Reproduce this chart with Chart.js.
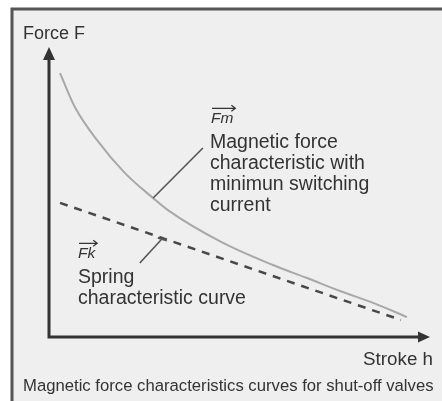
<!DOCTYPE html>
<html>
<head>
<meta charset="utf-8">
<script src="https://cdn.jsdelivr.net/npm/chart.js@4/dist/chart.umd.min.js"></script>
<style>
  html, body { margin: 0; padding: 0; background: #fff; }
  #wrap { width: 442px; height: 401px; }
</style>
</head>
<body>
<div id="wrap"><canvas id="chart" width="442" height="401"></canvas></div>
<script>
// Stroke h (0-100) vs force F (0-100)
const magneticStroke = [2.9, 6.8, 12.6, 20.0, 27.1, 31.3, 45.3, 58.9, 67.9, 76.6, 85.3, 94.2];
const magneticForce  = [91.3, 79.6, 68.2, 56.7, 48.4, 43.9, 32.9, 24.9, 20.4, 15.9, 11.8, 6.9];
const springStroke = [2.9, 92.6];
const springForce  = [46.4, 5.9];

// leader lines: [stroke, force] endpoints
const fmLeader = [[27.4, 48.1], [40.5, 65.4]];
const fkLeader = [[23.9, 25.6], [29.7, 33.9]];

const FONT = '"Liberation Sans", Arial, sans-serif';
const INK = "#333333";

const toPoints = (xs, ys) => xs.map((x, i) => ({ x, y: ys[i] }));

// frame + light grey panel behind the chart
const panelPlugin = {
  id: "panel",
  beforeDraw(chart) {
    const ctx = chart.ctx;
    ctx.save();
    ctx.fillStyle = "#fff";
    ctx.fillRect(0, 0, chart.width, chart.height);
    ctx.fillStyle = "#efefef";
    ctx.fillRect(11, 8, chart.width - 11, chart.height - 8);
    ctx.strokeStyle = "#555";
    ctx.lineWidth = 3;
    ctx.beginPath();
    ctx.moveTo(12, chart.height);
    ctx.lineTo(12, 9);
    ctx.lineTo(chart.width, 9);
    ctx.stroke();
    ctx.restore();
  },
};

function arrowText(ctx, text, x, y, size) {
  ctx.font = "italic " + size + "px " + FONT;
  ctx.fillText(text, x, y);
  const w = ctx.measureText(text).width;
  const ay = y - size * 0.95;
  ctx.lineWidth = 1.2;
  ctx.beginPath();
  ctx.moveTo(x + 1, ay);
  ctx.lineTo(x + w + 2, ay);
  ctx.moveTo(x + w - 2, ay - 3);
  ctx.lineTo(x + w + 2, ay);
  ctx.lineTo(x + w - 2, ay + 3);
  ctx.stroke();
}

// axes with arrows, leader lines and labels
const decorPlugin = {
  id: "decor",
  afterDatasetsDraw(chart) {
    const ctx = chart.ctx;
    const xs = chart.scales.x, ys = chart.scales.y;
    const area = chart.chartArea;
    const px = (p) => [xs.getPixelForValue(p[0]), ys.getPixelForValue(p[1])];
    ctx.save();

    // axes
    ctx.strokeStyle = INK;
    ctx.fillStyle = INK;
    ctx.lineWidth = 3;
    ctx.beginPath();
    ctx.moveTo(area.left, area.top + 10);
    ctx.lineTo(area.left, area.bottom);
    ctx.lineTo(area.right - 10, area.bottom);
    ctx.stroke();
    ctx.beginPath();
    ctx.moveTo(area.left, area.top - 1);
    ctx.lineTo(area.left - 6, area.top + 12);
    ctx.lineTo(area.left + 6, area.top + 12);
    ctx.closePath();
    ctx.fill();
    ctx.beginPath();
    ctx.moveTo(area.right + 1, area.bottom);
    ctx.lineTo(area.right - 11, area.bottom - 5.5);
    ctx.lineTo(area.right - 11, area.bottom + 5.5);
    ctx.closePath();
    ctx.fill();

    // leader lines
    ctx.strokeStyle = "#555";
    ctx.lineWidth = 1.6;
    [fmLeader, fkLeader].forEach((l) => {
      const a = px(l[0]), b = px(l[1]);
      ctx.beginPath();
      ctx.moveTo(a[0], a[1]);
      ctx.lineTo(b[0], b[1]);
      ctx.stroke();
    });
    // small tick on the spring curve end of its leader
    const t = px(fkLeader[1]);
    ctx.lineWidth = 2;
    ctx.beginPath();
    ctx.moveTo(t[0] - 4, t[1] - 1.2);
    ctx.lineTo(t[0] + 5, t[1] + 1.5);
    ctx.stroke();

    // labels
    ctx.fillStyle = INK;
    ctx.strokeStyle = INK;
    ctx.textBaseline = "alphabetic";
    ctx.textAlign = "left";
    ctx.font = "18px " + FONT;
    ctx.fillText("Force F", 23, 39);

    arrowText(ctx, "Fm", 211, 123, 15.5);
    ctx.font = "19.5px " + FONT;
    ["Magnetic force", "characteristic with", "minimun switching", "current"]
      .forEach((s, i) => ctx.fillText(s, 210, 148 + i * 21));

    arrowText(ctx, "Fk", 78, 258, 15.5);
    ctx.font = "19.5px " + FONT;
    ctx.fillText("Spring", 78, 283);
    ctx.fillText("characteristic curve", 78, 304);

    ctx.textAlign = "right";
    ctx.font = "18.8px " + FONT;
    ctx.fillText("Stroke h", 433, 365);

    ctx.textAlign = "left";
    ctx.font = "16.7px " + FONT;
    ctx.fillText("Magnetic force characteristics curves for shut-off valves", 23, 391);
    ctx.restore();
  },
};

new Chart(document.getElementById("chart"), {
  type: "line",
  data: {
    datasets: [
      {
        label: "Fm",
        data: toPoints(magneticStroke, magneticForce),
        borderColor: "#a8a8a8",
        borderWidth: 2,
        pointRadius: 0,
        cubicInterpolationMode: "monotone",
        fill: false,
      },
      {
        label: "Fk",
        data: toPoints(springStroke, springForce),
        borderColor: "#484848",
        borderWidth: 2.5,
        borderDash: [8, 7],
        pointRadius: 0,
        fill: false,
      },
    ],
  },
  options: {
    responsive: false,
    animation: false,
    layout: { padding: { left: 49, top: 48, right: 13, bottom: 64 } },
    plugins: { legend: { display: false }, tooltip: { enabled: false } },
    scales: {
      x: { type: "linear", min: 0, max: 100, display: false },
      y: { type: "linear", min: 0, max: 100, display: false },
    },
  },
  plugins: [panelPlugin, decorPlugin],
});
</script>
</body>
</html>
